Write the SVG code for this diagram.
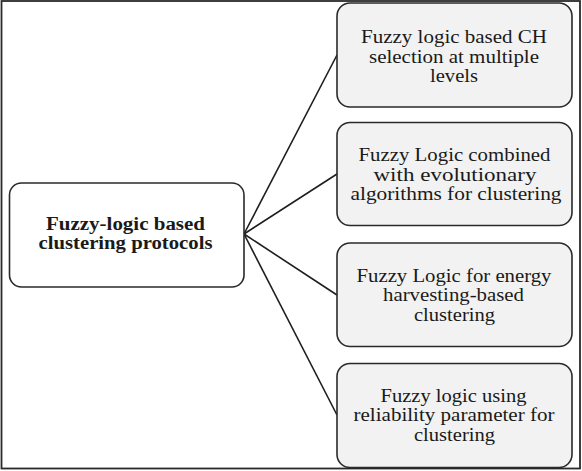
<svg xmlns="http://www.w3.org/2000/svg" width="582" height="471" viewBox="0 0 582 471">
<style>
.frame{fill:#ffffff;stroke:#2a2a2a;stroke-width:1.8}
.hub{fill:#ffffff;stroke:#2a2a2a;stroke-width:1.6}
.leaf{fill:#f2f2f2;stroke:#2a2a2a;stroke-width:1.6}
.conn{stroke:#1e1e1e;stroke-width:1.6;fill:none}
.t{font-size:19px}
.b{font-size:18.5px;font-weight:bold}
</style>
<rect width="582" height="471" fill="#ffffff"/>
<rect class="frame" x="1.5" y="1" width="578.5" height="467.5"/>
<g id="connectors">
<line class="conn" x1="244" y1="234" x2="337" y2="55"/>
<line class="conn" x1="244" y1="234" x2="337" y2="174"/>
<line class="conn" x1="244" y1="234" x2="337" y2="295"/>
<line class="conn" x1="244" y1="234" x2="337" y2="415"/>
</g>
<g font-family="'Liberation Serif', 'Times New Roman', 'DejaVu Serif', serif" fill="#1a1a1a" text-anchor="middle">
<g id="hub">
<rect class="hub" x="9.5" y="183" width="234.5" height="104" rx="12"/>
<text class="b" x="125.5" y="230" textLength="159" lengthAdjust="spacingAndGlyphs">Fuzzy-logic based</text>
<text class="b" x="125.5" y="249" textLength="174" lengthAdjust="spacingAndGlyphs">clustering protocols</text>
</g>
<g id="node1">
<rect class="leaf" x="337" y="3" width="235" height="104" rx="13"/>
<text class="t" x="454" y="42.5" textLength="186" lengthAdjust="spacingAndGlyphs">Fuzzy logic based CH</text>
<text class="t" x="454" y="62.5" textLength="170" lengthAdjust="spacingAndGlyphs">selection at multiple</text>
<text class="t" x="454" y="82" textLength="48" lengthAdjust="spacingAndGlyphs">levels</text>
</g>
<g id="node2">
<rect class="leaf" x="337" y="122.5" width="235" height="103" rx="13"/>
<text class="t" x="454.5" y="161" textLength="192" lengthAdjust="spacingAndGlyphs">Fuzzy Logic combined</text>
<text class="t" x="455" y="180.5" textLength="163" lengthAdjust="spacingAndGlyphs">with evolutionary</text>
<text class="t" x="456" y="200" textLength="211" lengthAdjust="spacingAndGlyphs">algorithms  for clustering</text>
</g>
<g id="node3">
<rect class="leaf" x="337" y="243" width="235" height="103.5" rx="13"/>
<text class="t" x="454" y="281.5" textLength="195" lengthAdjust="spacingAndGlyphs">Fuzzy Logic  for energy</text>
<text class="t" x="453.5" y="301" textLength="141" lengthAdjust="spacingAndGlyphs">harvesting-based</text>
<text class="t" x="454.5" y="320.5" textLength="81" lengthAdjust="spacingAndGlyphs">clustering</text>
</g>
<g id="node4">
<rect class="leaf" x="337" y="363.5" width="235" height="104" rx="13"/>
<text class="t" x="453.5" y="401.5" textLength="146" lengthAdjust="spacingAndGlyphs">Fuzzy logic using</text>
<text class="t" x="454" y="421" textLength="201" lengthAdjust="spacingAndGlyphs">reliability parameter for</text>
<text class="t" x="454.5" y="440.5" textLength="81" lengthAdjust="spacingAndGlyphs">clustering</text>
</g>
</g>
</svg>
